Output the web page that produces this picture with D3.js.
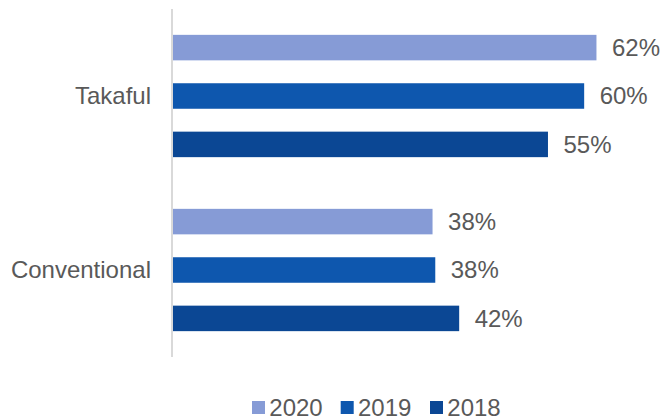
<!DOCTYPE html>
<html>
<head>
<meta charset="utf-8">
<script src="https://cdn.jsdelivr.net/npm/d3@7"></script>
<style>
  html, body { margin: 0; padding: 0; background: #ffffff; }
  svg { display: block; }
  text { font-family: Arial, "Liberation Sans", sans-serif; fill: #595959; }
</style>
</head>
<body>
<svg id="chart" width="664" height="417"></svg>
<script>
// Share of respondents by segment and year
const categories = ["Takaful", "Conventional"];
const years = ["2020", "2019", "2018"];
const values2020 = [62.0, 38.0];
const values2019 = [60.2, 38.4];
const values2018 = [54.9, 41.9];
const seriesValues = [values2020, values2019, values2018];
const colors = ["#869bd6", "#0e57ae", "#0b4794"];

const fontSize = 24;

const svg = d3.select("#chart");

const x = d3.scaleLinear().domain([0, 70]).range([173, 651.1]);
const y0 = d3.scaleBand().domain(categories).range([9, 357]);
const y1 = d3.scaleBand().domain(years).range([0, y0.bandwidth()])
  .paddingInner(0.473).paddingOuter(0.534);

// vertical category axis line
svg.append("line")
  .attr("x1", 172).attr("x2", 172)
  .attr("y1", y0.range()[0]).attr("y2", y0.range()[1])
  .attr("stroke", "#d9d9d9").attr("stroke-width", 2);

// category labels
svg.append("g").selectAll("text")
  .data(categories)
  .join("text")
  .attr("x", 151)
  .attr("y", d => y0(d) + y0.bandwidth() / 2)
  .attr("dy", "0.35em")
  .attr("text-anchor", "end")
  .style("font-size", fontSize + "px")
  .text(d => d);

const fmt = d3.format(".0f");

const rows = [];
categories.forEach((c, ci) => {
  years.forEach((yr, si) => {
    rows.push({ cat: c, year: yr, value: seriesValues[si][ci], color: colors[si] });
  });
});

const bars = svg.append("g");
bars.selectAll("rect")
  .data(rows)
  .join("rect")
  .attr("x", x(0))
  .attr("y", d => y0(d.cat) + y1(d.year))
  .attr("width", d => x(d.value) - x(0))
  .attr("height", y1.bandwidth())
  .attr("fill", d => d.color);

bars.selectAll("text")
  .data(rows)
  .join("text")
  .attr("x", d => x(d.value) + 15.5)
  .attr("y", d => y0(d.cat) + y1(d.year) + y1.bandwidth() / 2)
  .attr("dy", "0.35em")
  .style("font-size", fontSize + "px")
  .text(d => fmt(d.value) + "%");

// legend
const legend = svg.append("g");
const legendX = [252, 340.7, 430];
years.forEach((yr, i) => {
  legend.append("rect")
    .attr("x", legendX[i]).attr("y", 401)
    .attr("width", 13).attr("height", 13)
    .attr("fill", colors[i]);
  legend.append("text")
    .attr("x", legendX[i] + 17.3)
    .attr("y", 415.7)
    .style("font-size", fontSize + "px")
    .text(yr);
});
</script>
</body>
</html>
